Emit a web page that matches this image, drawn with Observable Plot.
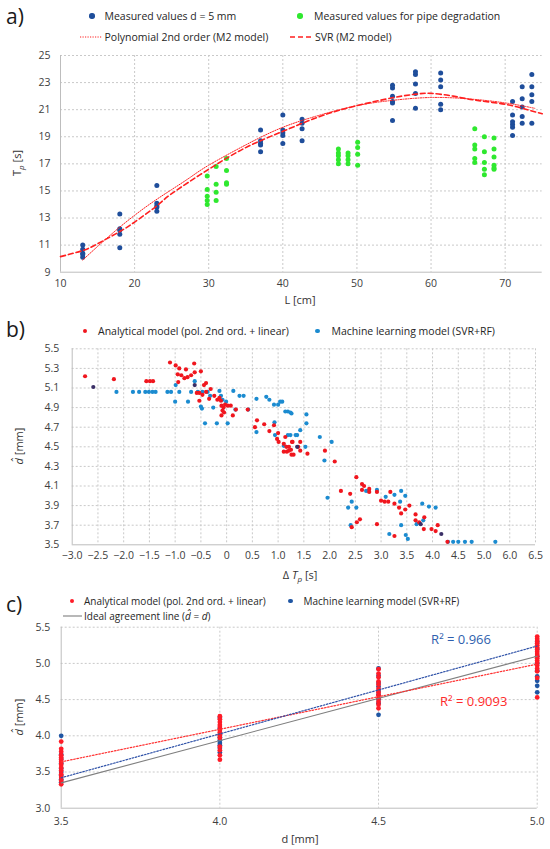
<!DOCTYPE html>
<html><head><meta charset="utf-8">
<script src="https://cdn.jsdelivr.net/npm/d3@7"></script>
<script src="https://cdn.jsdelivr.net/npm/@observablehq/plot@0.6"></script>
<style>
body{margin:0;background:#fff;}
#root{position:relative;width:550px;height:849px;font-family:"Open Sans",sans-serif;color:#262626;overflow:hidden;background:#fff}
.abs{position:absolute;white-space:nowrap;line-height:1}
.plab{font-size:21px;color:#1a1a1a}
.leg{transform:translateY(-50%)}
.la{font-size:10.5px}
.lc{font-size:10px}
.ttl{font-size:11px;color:#333;transform:translate(-50%,-50%)}
.rot{transform:translate(-50%,-50%) rotate(-90deg)}
.dot{position:absolute;border-radius:50%}
</style></head>
<body><div id="root"></div>
<script>
// ---------------- Panel a data ----------------
const measuredL = [13, 18, 23, 37, 40, 42.6, 54.8, 57.9, 61.3, 71.0, 72.3, 73.6];
const measuredT = [
  [10.1, 10.3, 10.4, 10.7, 11.0],
  [10.8, 11.8, 12.1, 12.2, 13.3],
  [13.5, 13.8, 13.9, 14.1, 15.4],
  [17.9, 18.4, 18.5, 18.7, 19.5],
  [18.5, 19.1, 19.3, 19.5, 20.6],
  [18.7, 19.6, 20.0, 20.3],
  [20.2, 21.5, 21.6, 22.0, 22.6, 22.8],
  [21.1, 22.2, 22.9, 23.6, 23.8],
  [21.0, 21.4, 22.7, 23.2, 23.7],
  [19.1, 19.7, 19.9, 20.1, 20.6, 21.6],
  [20.0, 20.5, 21.2, 21.8, 22.7],
  [20.0, 21.6, 22.1, 22.7, 23.6]
];
const degradedL = [29.8, 31.0, 32.4, 47.5, 48.8, 50.1, 65.9, 67.2, 68.5];
const degradedT = [
  [14.0, 14.3, 14.6, 15.1, 16.1],
  [14.3, 14.9, 15.5, 16.8],
  [15.5, 15.6, 16.5, 17.4],
  [17.0, 17.3, 17.6, 17.8, 18.1],
  [17.0, 17.3, 17.6, 17.8],
  [16.9, 17.7, 18.2, 18.6],
  [17.1, 17.4, 18.1, 18.4, 19.6],
  [16.2, 16.6, 17.1, 17.9, 19.0],
  [16.6, 16.7, 16.9, 17.5, 18.1, 18.9]
];
const polyL = [13, 15, 17.5, 20, 22.5, 25, 27.5, 30, 35, 40, 45, 50, 55, 60, 65, 70, 74];
const polyT = [9.9, 10.9, 12.1, 13.2, 14.2, 15.1, 16.0, 16.9, 18.4, 19.7, 20.6, 21.3, 21.7, 21.9, 21.8, 21.5, 21.1];
const svrL = [10, 13, 15, 18, 20, 23, 25, 30, 35, 40, 45, 50, 55, 58, 60, 63, 66, 70, 73, 75];
const svrT = [10.15, 10.6, 11.1, 12.0, 12.7, 13.9, 14.8, 16.6, 18.2, 19.4, 20.5, 21.3, 21.9, 22.15, 22.2, 22.0, 21.7, 21.4, 21.0, 20.7];
const aTicksX = [10, 20, 30, 40, 50, 60, 70];
const aTicksY = [9, 11, 13, 15, 17, 19, 21, 23, 25];

// ---------------- Panel b data ----------------
const analyticalB = [
  [-2.75,5.22],[-2.19,5.19],[-1.56,5.17],[-1.49,5.17],[-1.43,5.17],[-1.10,5.36],[-0.99,5.33],[-0.92,5.30],
  [-0.95,5.24],[-0.88,5.23],[-0.94,5.16],[-0.82,5.20],[-0.79,5.29],[-0.76,5.21],[-0.69,5.23],[-0.63,5.35],
  [-0.62,5.26],[-0.50,5.27],[-0.40,5.15],[-0.44,5.13],[-0.58,5.05],[-0.53,5.05],[-0.53,4.97],[-0.47,5.03],
  [-0.40,5.06],[-0.34,4.99],[-0.31,5.09],[-0.24,5.02],[-0.18,4.98],[-0.14,5.00],[-0.11,4.97],[-0.10,4.92],
  [-0.06,4.90],[-0.08,4.87],[-0.05,4.85],[-0.10,4.82],[-0.03,4.93],[0.02,4.92],[0.08,4.92],[0.12,4.82],
  [0.18,4.88],[0.41,4.88],[0.55,4.70],[0.59,4.77],[0.73,4.73],[0.83,4.66],[0.92,4.72],[1.00,4.64],
  [0.98,4.58],[1.01,4.55],[1.16,4.50],[1.17,4.45],[1.25,4.47],[1.28,4.55],[1.30,4.42],[1.39,4.50],
  [1.14,4.60],[1.11,4.53],[1.11,4.45],[1.21,4.46],[1.21,4.50],[1.27,4.55],[1.26,4.42],[1.43,4.55],
  [1.43,4.46],[1.57,4.43],[1.91,4.46],[2.10,4.35],[2.22,4.05],[2.40,4.02],[2.43,3.68],[2.52,4.19],
  [2.53,3.73],[2.59,3.76],[2.63,4.12],[2.63,4.06],[2.67,4.10],[2.77,4.07],[2.77,4.04],[2.92,4.04],
  [2.92,3.71],[3.00,3.95],[3.07,3.94],[3.14,3.94],[3.18,4.04],[3.26,3.92],[3.26,3.59],[3.35,3.88],
  [3.39,3.82],[3.47,3.86],[3.55,3.90],[3.67,3.81],[3.67,3.75],[3.74,3.73],[3.84,3.78],[3.83,3.66],
  [3.98,3.66],[4.06,3.64],[4.10,3.70],[4.29,3.53]
];
const machineB = [
  [-2.14,5.06],[-1.82,5.06],[-1.70,5.06],[-1.58,5.06],[-1.51,5.06],[-1.44,5.06],[-1.38,5.06],
  [-1.15,5.06],[-1.08,5.06],[-0.99,5.13],[-0.92,5.06],[-1.00,4.96],[-0.75,4.96],[-0.69,5.06],[-0.56,5.06],
  [-0.47,5.06],[-0.37,5.06],[-0.62,5.17],[-0.50,4.91],[-0.48,4.89],[-0.42,4.74],[-0.32,5.02],[-0.26,4.90],
  [-0.19,4.74],[-0.14,5.07],[-0.11,5.02],[-0.08,4.98],[-0.01,4.96],[0.02,4.74],[0.13,5.07],[0.17,4.88],
  [0.25,5.02],[0.33,5.02],[0.42,4.88],[0.58,4.99],[0.58,4.65],[0.77,5.01],[0.83,4.98],[0.92,4.93],
  [1.00,4.93],[1.08,4.96],[0.93,4.75],[0.94,4.62],[1.19,4.86],[1.26,4.84],[1.24,4.62],[1.37,4.62],
  [1.04,4.96],[1.14,4.86],[1.24,4.85],[1.55,4.83],[1.55,4.74],[1.43,4.67],[1.34,4.62],[1.19,4.62],
  [1.11,4.51],[1.53,4.50],[1.81,4.60],[2.04,4.55],[1.90,4.36],[1.96,3.98],[2.36,3.88],[2.43,3.94],
  [2.52,3.88],[2.41,3.70],[2.71,4.05],[2.76,4.05],[2.92,4.06],[3.09,3.99],[3.16,3.61],[3.26,4.01],
  [3.39,4.05],[3.47,4.00],[3.37,3.94],[3.39,3.70],[3.48,3.60],[3.52,3.56],[3.80,3.92],[3.93,3.89],
  [4.06,3.88],[3.69,3.71],[3.82,3.75],[4.30,3.53],[4.40,3.53],[4.50,3.53],[4.63,3.53],[4.76,3.53],[5.22,3.53]
];
const coincidentB = [[-2.59,5.11],[4.17,3.61],[1.37,4.50],[3.77,3.71],[-0.62,5.13]];
const bTicksX = [-3,-2.5,-2,-1.5,-1,-0.5,0,0.5,1,1.5,2,2.5,3,3.5,4,4.5,5,5.5,6];
const bTickLabels = ["−3.0","−2.5","−2.0","−1.5","−1.0","−0.5","0","0.5","1.0","1.5","2.0","2.5","3.0","3.5","4.0","4.5","5.0","6.0","6.5"];
const bTicksY = [3.5,3.7,3.9,4.1,4.3,4.5,4.7,4.9,5.1,5.3,5.5];

// ---------------- Panel c data ----------------
const cLevels = [3.5, 4.0, 4.5, 5.0];
const cAnalytical = [
  [3.92,3.82,3.78,3.73,3.70,3.67,3.64,3.60,3.56,3.52,3.47,3.43,3.38,3.33],
  [4.27,4.23,4.19,4.15,4.12,4.08,4.05,4.01,3.97,3.85,3.80,3.73,3.67],
  [4.92,4.86,4.81,4.75,4.71,4.65,4.60,4.56,4.52,4.47,4.43,4.38],
  [5.37,5.34,5.31,5.28,5.25,5.22,5.19,5.16,5.13,5.10,5.07,5.04,5.01,4.97,4.93,4.89,4.80,4.53]
];
const cMachine = [
  [4.00,3.74,3.68,3.62,3.55,3.50,3.45,3.40,3.36],
  [4.25,4.10,4.02,3.98,3.94,3.90,3.87,3.83,3.77],
  [4.93,4.83,4.73,4.68,4.62,4.57,4.50,4.45,4.29],
  [5.30,5.20,5.10,5.00,4.90,4.82,4.76,4.69,4.60]
];
const fitD = [3.5, 5.0];
const analyticalFit = [3.64, 4.99];
const machineFit = [3.42, 5.24];
const idealFit = [3.35, 5.10];
const r2Labels = [{d:4.76, v:5.32, t:"R² = 0.966", c:"#2f5fae"}, {d:4.80, v:4.47, t:"R² = 0.9093", c:"#ff2b2b"}];
const cTicksX = [3.5, 4.0, 4.5, 5.0];
const cTicksY = [3.0, 3.5, 4.0, 4.5, 5.0, 5.5];

// ---------------- helpers ----------------
const groups = (xs, ys) => xs.flatMap((x, i) => ys[i].map(y => ({x, y})));
const pairs = (a) => a.map(([x, y]) => ({x, y}));
const zipXY = (xs, ys) => xs.map((x, i) => ({x, y: ys[i]}));
const root = document.getElementById("root");
function put(html, cls, left, top) {
  const d = document.createElement("div");
  d.className = "abs " + cls; d.innerHTML = html;
  d.style.left = left + "px"; d.style.top = top + "px";
  root.appendChild(d); return d;
}
function legDot(cx, cy, r, color) {
  const d = document.createElement("div");
  d.className = "dot";
  Object.assign(d.style, {left:(cx-r)+"px", top:(cy-r)+"px", width:(2*r)+"px", height:(2*r)+"px", background:color});
  root.appendChild(d);
}
function legLine(x1, x2, cy, color, dash, w) {
  const ns = "http://www.w3.org/2000/svg";
  const s = document.createElementNS(ns, "svg");
  s.setAttribute("width", x2 - x1); s.setAttribute("height", 6);
  Object.assign(s.style, {position:"absolute", left:x1+"px", top:(cy-3)+"px"});
  const l = document.createElementNS(ns, "line");
  l.setAttribute("x1", 0); l.setAttribute("x2", x2 - x1); l.setAttribute("y1", 3); l.setAttribute("y2", 3);
  l.setAttribute("stroke", color); l.setAttribute("stroke-width", w);
  if (dash) l.setAttribute("stroke-dasharray", dash);
  s.appendChild(l); root.appendChild(s);
}
function mount(svg, top) {
  Object.assign(svg.style, {position:"absolute", left:"0px", top: top + "px"});
  root.appendChild(svg);
}
const gridStyle = {stroke:"#c9c9c9", strokeOpacity:1, strokeDasharray:"2,2"};
const axisLine = {stroke:"#bdbdbd", strokeWidth:1};
const baseStyle = {fontFamily:"Open Sans, sans-serif", fontSize:"10.5px", color:"#404040", background:"transparent", overflow:"visible"};

// ---------------- Panel a ----------------
const BLUE_A = "#1f4e9b", GREEN_A = "#2fe82f", RED = "#ff1f1f";
const aPlot = Plot.plot({
  width: 550, height: 270, marginTop: 10, marginBottom: 43.3, marginLeft: 60, marginRight: 8.3,
  style: baseStyle,
  x: {domain: [10, 75]}, y: {domain: [9, 25]},
  marks: [
    Plot.gridX(aTicksX.slice(1), gridStyle),
    Plot.gridY(aTicksY.slice(1), gridStyle),
    Plot.ruleX([10], axisLine),
    Plot.ruleY([9], axisLine),
    Plot.axisX(aTicksX, {tickSize: 0, tickPadding: 7, label: null}),
    Plot.axisY(aTicksY, {tickSize: 0, tickPadding: 10, label: null}),
    Plot.dot(groups(measuredL, measuredT), {x: "x", y: "y", r: 2.5, fill: BLUE_A}),
    Plot.dot(groups(degradedL, degradedT), {x: "x", y: "y", r: 2.5, fill: GREEN_A}),
    Plot.line(zipXY(polyL, polyT), {x: "x", y: "y", stroke: RED, strokeWidth: 1, strokeDasharray: "1.2,1.3", curve: "natural"}),
    Plot.line(zipXY(svrL, svrT), {x: "x", y: "y", stroke: RED, strokeWidth: 1.6, strokeDasharray: "5,3", curve: "natural"})
  ]
});
mount(aPlot, 45);
put("a)", "plab", 6, 6);
legDot(92, 16, 2.7, BLUE_A); put("Measured values d = 5 mm", "leg la", 104.5, 16);
legDot(300, 16, 2.7, GREEN_A); put("Measured values for pipe degradation", "leg la", 314, 16);
legLine(80, 102, 37, RED, "1.2,1.3", 1); put("Polynomial 2nd order (M2 model)", "leg la", 104.5, 37);
legLine(290, 312, 37, RED, "5,3", 1.6); put("SVR (M2 model)", "leg la", 315, 37);
put("T<sub style='font-size:8px;font-style:italic'>p</sub> [s]", "ttl rot", 18, 163);
put("L [cm]", "ttl", 300, 299);

// ---------------- Panel b ----------------
const RED_B = "#f0161e", BLUE_B = "#1b8bd0", DARK_B = "#3a2f66";
const bPlot = Plot.plot({
  width: 550, height: 245, marginTop: 8.3, marginBottom: 40.7, marginLeft: 71.7, marginRight: 15,
  style: baseStyle,
  x: {domain: [-3, 6]}, y: {domain: [3.5, 5.5]},
  marks: [
    Plot.gridX(bTicksX.slice(1), gridStyle),
    Plot.gridY(bTicksY.slice(1), gridStyle),
    Plot.ruleX([-3], axisLine),
    Plot.ruleY([3.5], axisLine),
    Plot.axisX(bTicksX, {tickSize: 0, tickPadding: 7, label: null, tickFormat: d => bTickLabels[Math.round((d + 3) / 0.5)]}),
    Plot.axisY(bTicksY, {tickSize: 0, tickPadding: 13, label: null, tickFormat: d => d.toFixed(1)}),
    Plot.dot(pairs(machineB), {x: "x", y: "y", r: 2.1, fill: BLUE_B}),
    Plot.dot(pairs(analyticalB), {x: "x", y: "y", r: 2.1, fill: RED_B}),
    Plot.dot(pairs(coincidentB), {x: "x", y: "y", r: 2.1, fill: DARK_B})
  ]
});
mount(bPlot, 340);
put("b)", "plab", 6, 319);
legDot(85, 331, 2.3, RED_B); put("Analytical model (pol. 2nd ord. + linear)", "leg la", 98, 331);
legDot(317.5, 331, 2.3, BLUE_B); put("Machine learning model (SVR+RF)", "leg la", 331.5, 331);
put("<i>d&#770;</i> [mm]", "ttl rot", 18, 446);
put("Δ <i>T<sub style='font-size:8px'>p</sub></i> [s]", "ttl", 300, 576);

// ---------------- Panel c ----------------
const RED_C = "#ff1c28", BLUE_C = "#1f56a3";
const cPlot = Plot.plot({
  width: 550, height: 229, marginTop: 6.7, marginBottom: 41.3, marginLeft: 60.7, marginRight: 13.3,
  style: baseStyle,
  x: {domain: [3.5, 5.0]}, y: {domain: [3.0, 5.5]},
  marks: [
    Plot.gridX(cTicksX.slice(1), gridStyle),
    Plot.gridY(cTicksY.slice(1), gridStyle),
    Plot.ruleX([3.5], axisLine),
    Plot.ruleY([3.0], axisLine),
    Plot.axisX(cTicksX, {tickSize: 0, tickPadding: 9, label: null, tickFormat: d => d.toFixed(1)}),
    Plot.axisY(cTicksY, {tickSize: 0, tickPadding: 11, label: null, tickFormat: d => d.toFixed(1)}),
    Plot.dot(groups(cLevels, cMachine), {x: "x", y: "y", r: 2.4, fill: BLUE_C}),
    Plot.dot(groups(cLevels, cAnalytical), {x: "x", y: "y", r: 2.4, fill: RED_C}),
    Plot.line(zipXY(fitD, idealFit), {x: "x", y: "y", stroke: "#7f7f7f", strokeWidth: 1.1}),
    Plot.line(zipXY(fitD, analyticalFit), {x: "x", y: "y", stroke: "#ff3030", strokeWidth: 1.2, strokeDasharray: "1.6,1.6"}),
    Plot.line(zipXY(fitD, machineFit), {x: "x", y: "y", stroke: "#2f52a8", strokeWidth: 1.2, strokeDasharray: "1.6,1.6"}),
    Plot.text(r2Labels, {x: "d", y: "v", text: "t", fill: "c", fontSize: 13})
  ]
});
mount(cPlot, 620);
put("c)", "plab", 6, 594);
legDot(72, 601, 2.3, RED_C); put("Analytical model (pol. 2nd ord. + linear)", "leg lc", 84, 601);
legDot(290.5, 601, 2.3, BLUE_C); put("Machine learning model (SVR+RF)", "leg lc", 303.5, 601);
legLine(63, 82, 616, "#7f7f7f", null, 1.1); put("Ideal agreement line (<i>d&#770;</i> = <i>d</i>)", "leg lc", 84, 616);
put("<i>d&#770;</i> [mm]", "ttl rot", 18, 717);
put("d [mm]", "ttl", 300, 838);
</script></body></html>
